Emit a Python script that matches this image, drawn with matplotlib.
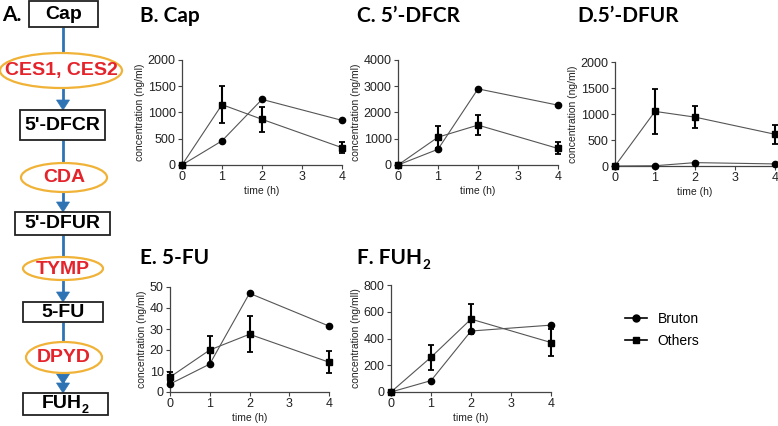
import matplotlib.pyplot as plt
from matplotlib.patches import Rectangle, Ellipse, Polygon
from matplotlib.lines import Line2D

# data
times = [0, 1, 2, 4]

cap_bruton = [0, 460, 1250, 850]
cap_others = [0, 1150, 870, 330]
cap_err = [0, 350, 240, 100]

dfcr_bruton = [0, 600, 2900, 2280]
dfcr_others = [0, 1060, 1520, 630]
dfcr_err = [0, 420, 380, 230]

dfur_bruton = [0, 5, 65, 40]
dfur_others = [0, 1050, 940, 610]
dfur_err = [0, 440, 210, 180]

fu_bruton = [3.8, 13.3, 47, 31.4]
fu_others = [7.1, 20, 27.5, 14.2]
fu_err = [2.5, 6.5, 8.5, 5.2]

fuh2_bruton = [0, 85, 456, 500]
fuh2_others = [0, 260, 545, 370]
fuh2_err = [0, 95, 115, 100]

series_names = ['Bruton', 'Others']

W, H = 778, 426
fig = plt.figure(figsize=(W / 100, H / 100), dpi=100)
plt.rcParams['font.family'] = ['Liberation Sans', 'DejaVu Sans']

# overlay in pixel coordinates for the pathway diagram and panel titles
ov = fig.add_axes([0, 0, 1, 1])
ov.set_xlim(0, W)
ov.set_ylim(H, 0)
ov.axis('off')
ov.patch.set_visible(False)

blue = '#2e74b5'
gold = '#f0b237'
red = '#e4232b'
cx = 63

def box(x0, x1, y0, y1):
    ov.add_patch(Rectangle((x0, y0), x1 - x0, y1 - y0, fc='white', ec='#222222', lw=1.3, zorder=3))

def ell(x0, x1, y0, y1):
    ov.add_patch(Ellipse(((x0 + x1) / 2, (y0 + y1) / 2), x1 - x0, y1 - y0,
                         fc='white', ec=gold, lw=1.6, zorder=3))

def line(y0, y1):
    ov.plot([cx, cx], [y0, y1], color=blue, lw=2, zorder=2, solid_capstyle='butt')

def head(ytip, w=13, h=10):
    ov.add_patch(Polygon([(cx - w / 2, ytip - h), (cx + w / 2, ytip - h), (cx, ytip)],
                         closed=True, fc=blue, ec=blue, lw=0.5, zorder=2))

def label(x, y, s, color='black', size=14):
    ov.text(x, y, s, ha='center', va='center', fontsize=size, fontweight='bold',
            color=color, family=['Liberation Sans', 'DejaVu Sans'], zorder=4)

# boxes and ellipses
box(29, 98, 1, 27)
ell(0, 122, 53, 88)
box(20, 105, 110, 140)
ell(21, 107, 163, 192)
box(15, 110, 212, 235)
ell(23, 103, 257, 280)
box(23, 103, 302, 322)
ell(26, 102, 342, 373)
box(23, 108, 393, 415)

line(27, 53)
line(88, 104)
head(110)
line(140, 163)
line(192, 206)
head(212)
line(235, 257)
line(280, 296)
head(302)
line(322, 342)
line(373, 385)
head(384)
head(393)

label(63.5, 14.5, 'Cap')
label(61, 71, 'CES1, CES2', red)
label(62.5, 125.5, "5'-DFCR")
label(64, 178, 'CDA', red)
label(62.5, 224, "5'-DFUR")
label(63, 269, 'TYMP', red)
label(63, 312.5, '5-FU')
label(64, 358, 'DPYD', red)

renderer = fig.canvas.get_renderer()

def with_sub(x, y, main, sub, size, family, color='black', ha='center'):
    t = ov.text(x, y, main, ha='left', va='center', fontsize=size, fontweight='bold',
                color=color, family=family, zorder=4)
    s = ov.text(x, y, sub, ha='left', va='center', fontsize=size * 0.65, fontweight='bold',
                color=color, family=family, zorder=4)
    wm = t.get_window_extent(renderer).width
    ws = s.get_window_extent(renderer).width
    x0 = x - (wm + ws) / 2 if ha == 'center' else x
    t.set_x(x0)
    s.set_x(x0 + wm)
    s.set_y(y + size * 0.45)

with_sub(65.5, 404, 'FUH', '2', 14, ['Liberation Sans', 'DejaVu Sans'])

title_font = ['Lato', 'DejaVu Sans']
def title(x, y, s):
    ov.text(x, y, s, ha='left', va='center', fontsize=15, fontweight='bold',
            family=title_font, color='black')

ov.text(2, 15, 'A.', ha='left', va='center', fontsize=15, fontweight='bold', family=title_font)
title(140, 16, 'B. Cap')
title(357, 16, 'C. 5\u2019-DFCR')
title(577, 16, 'D.5\u2019-DFUR')
title(140, 258, 'E. 5-FU')
with_sub(357, 258, 'F. FUH', '2', 15, title_font, ha='left')

# panels: (left, right, top, bottom) in pixels
panels = [
    ((182, 342, 60, 165), cap_bruton, cap_others, cap_err, 2000, 500, 'concentration (ng/ml)'),
    ((398, 558, 60, 165), dfcr_bruton, dfcr_others, dfcr_err, 4000, 1000, 'concentration (ng/ml)'),
    ((615, 775, 62, 166), dfur_bruton, dfur_others, dfur_err, 2000, 500, 'concentration (ng/ml)'),
    ((170, 329, 287, 392), fu_bruton, fu_others, fu_err, 50, 10, 'concentration (ng/ml)'),
    ((391, 551, 285, 392), fuh2_bruton, fuh2_others, fuh2_err, 800, 200, 'concentration (ng/mll)'),
]

axc = '#444444'
handles = None
for (l, r, t, b), bru, oth, err, ymax, step, ylab in panels:
    ax = fig.add_axes([l / W, 1 - b / H, (r - l) / W, (b - t) / H])
    h1, = ax.plot(times, bru, color='#555555', lw=0.8, marker='o', ms=4.5,
                  mfc='black', mec='black', clip_on=False, zorder=4)
    h2 = ax.errorbar(times, oth, yerr=err, color='#555555', lw=0.8, marker='s', ms=5,
                     mfc='black', mec='black', ecolor='black', elinewidth=1.5,
                     capsize=2.5, capthick=1.3, clip_on=False, zorder=5)
    for art in h2.lines[1] + h2.lines[2]:
        art.set_clip_on(False)
    for c in h2.lines[2]:
        c.set_clip_on(False)
    handles = [h1, h2.lines[0]]
    ax.set_xlim(0, 4)
    ax.set_ylim(0, ymax)
    ax.set_xticks([0, 1, 2, 3, 4])
    ax.set_yticks(range(0, ymax + 1, step))
    for sp in ['top', 'right']:
        ax.spines[sp].set_visible(False)
    for sp in ['left', 'bottom']:
        ax.spines[sp].set_color(axc)
        ax.spines[sp].set_linewidth(0.9)
    ax.tick_params(direction='out', length=3, width=0.8, colors=axc, labelcolor='#222222',
                   labelsize=9, pad=1.5)
    ax.set_xlabel('time (h)', fontsize=7.5, color='#222222', labelpad=2)
    ax.set_ylabel(ylab, fontsize=7.5, color='#222222', labelpad=2)
    ax.patch.set_visible(False)

leg_handles = [
    Line2D([], [], color='black', lw=1.2, marker='o', ms=5),
    Line2D([], [], color='black', lw=1.2, marker='s', ms=5),
]
fig.legend(leg_handles, series_names, loc='center left',
           bbox_to_anchor=(612 / W, 1 - 330 / H), frameon=False, fontsize=10,
           handlelength=1.6, handletextpad=0.8, labelspacing=0.6)

fig.savefig('out.png', dpi=100)
